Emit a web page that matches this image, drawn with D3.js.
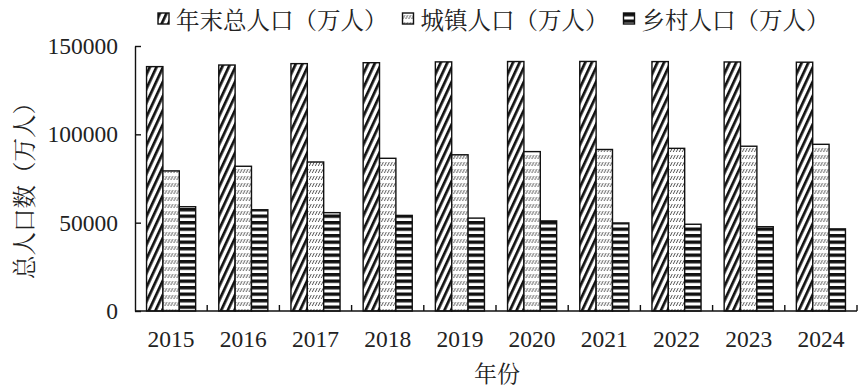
<!DOCTYPE html>
<html><head><meta charset="utf-8">
<script src="https://cdn.jsdelivr.net/npm/d3@7/dist/d3.min.js"></script>
<style>
body{margin:0;background:#fff;}
svg{display:block;}
text{fill:#222;}
</style></head>
<body>
<svg id="chart" width="861" height="390"></svg>
<script>
const years = ["2015","2016","2017","2018","2019","2020","2021","2022","2023","2024"];
const seriesNames = ["年末总人口（万人）","城镇人口（万人）","乡村人口（万人）"];
const totalPop = [138326,139232,140011,140541,141008,141212,141260,141175,140967,140828];
const urbanPop = [79302,81924,84343,86433,88426,90220,91425,92071,93267,94350];
const ruralPop = [59024,57308,55668,54108,52582,50992,49835,49104,47700,46478];
const yTicks = [0,50000,100000,150000];
const xTitle = "年份";
const yTitle = "总人口数（万人）";

const seriesValues = [totalPop, urbanPop, ruralPop];
const patternIds = ["pTotal","pUrban","pRural"];

const svg = d3.select("#chart");
const defs = svg.append("defs");

// diagonal black stripes
const p1 = defs.append("pattern").attr("id","pTotal").attr("patternUnits","userSpaceOnUse")
  .attr("width",6).attr("height",6).attr("patternTransform","rotate(25)");
p1.append("rect").attr("width",6).attr("height",6).attr("fill","#fff");
p1.append("rect").attr("x",0).attr("width",2.7).attr("height",6).attr("fill","#111");

// urban: rows of short fine diagonal strokes
const p2 = defs.append("pattern").attr("id","pUrban").attr("patternUnits","userSpaceOnUse")
  .attr("width",3).attr("height",7);
p2.append("rect").attr("width",3).attr("height",7).attr("fill","#fff");
p2.append("line").attr("x1",0.3).attr("y1",5).attr("x2",2.3).attr("y2",1)
  .attr("stroke","#555").attr("stroke-width",1);

// rural: horizontal black stripes
const p3 = defs.append("pattern").attr("id","pRural").attr("patternUnits","userSpaceOnUse")
  .attr("width",6).attr("height",6.5);
p3.append("rect").attr("width",6).attr("height",6.5).attr("fill","#fff");
p3.append("rect").attr("y",0).attr("width",6).attr("height",3.4).attr("fill","#111");

const plotLeft = 135, plotRight = 857, plotTop = 46, plotBottom = 311;

const x0 = d3.scaleBand().domain(years).range([plotLeft,plotRight]).paddingInner(0.32).paddingOuter(0.16);
const x1 = d3.scaleBand().domain(d3.range(seriesNames.length)).range([0,x0.bandwidth()]);
const y = d3.scaleLinear().domain([0,150000]).range([plotBottom,plotTop]);

// bars
const groups = svg.append("g").selectAll("g").data(years).join("g")
  .attr("transform",d=>`translate(${x0(d)},0)`);
groups.selectAll("rect").data((d,i)=>seriesValues.map((s,k)=>({k,v:s[i]}))).join("rect")
  .attr("x",d=>x1(d.k)).attr("width",x1.bandwidth())
  .attr("y",d=>y(d.v)).attr("height",d=>plotBottom-y(d.v))
  .attr("fill",d=>`url(#${patternIds[d.k]})`)
  .attr("stroke","#111").attr("stroke-width",1.4);

// y axis
const yAxis = d3.axisLeft(y).tickValues(yTicks).tickSizeInner(-6).tickSizeOuter(0).tickPadding(17).tickFormat(d3.format("d"));
const gy = svg.append("g").attr("transform",`translate(${plotLeft},0)`).call(yAxis);
gy.select(".domain").attr("stroke","#111").attr("stroke-width",1.4);
gy.selectAll(".tick line").attr("stroke","#111").attr("stroke-width",1.4);
gy.selectAll("text").attr("font-family","'Liberation Serif','Times New Roman',serif").attr("font-size",23.5).attr("fill","#222");

// x axis (category boundaries as inward ticks)
const boundaries = years.map((d,i)=>plotLeft + i*x0.step()).concat([plotRight]);
const xAxisG = svg.append("g");
xAxisG.append("line").attr("x1",plotLeft).attr("x2",plotRight).attr("y1",plotBottom).attr("y2",plotBottom)
  .attr("stroke","#111").attr("stroke-width",1.4);
xAxisG.selectAll("line.tk").data(boundaries.slice(1)).join("line").attr("class","tk")
  .attr("x1",d=>d).attr("x2",d=>d).attr("y1",plotBottom).attr("y2",plotBottom-6)
  .attr("stroke","#111").attr("stroke-width",1.4);
xAxisG.selectAll("text").data(years).join("text")
  .attr("x",d=>x0(d)+x0.bandwidth()/2).attr("y",347)
  .attr("text-anchor","middle")
  .attr("font-family","'Liberation Serif','Times New Roman',serif").attr("font-size",23.5)
  .text(d=>d);

// titles
svg.append("text").attr("x",497).attr("y",372).attr("text-anchor","middle")
  .attr("dominant-baseline","central")
  .attr("font-family","'Noto Serif CJK SC','Noto Sans CJK SC',sans-serif").attr("font-size",23).attr("fill","#333")
  .text(xTitle);
svg.append("text").attr("transform","translate(23,185) rotate(-90)").attr("text-anchor","middle")
  .attr("dominant-baseline","central")
  .attr("font-family","'Noto Serif CJK SC','Noto Sans CJK SC',sans-serif").attr("font-size",23.5).attr("fill","#333")
  .text(yTitle);

// legend (laid out sequentially)
const lg = svg.append("g");
let cx = 158;
seriesNames.forEach((name,i)=>{
  const item = lg.append("g").attr("transform",`translate(${cx},0)`);
  item.append("rect").attr("x",0).attr("y",13).attr("width",11).attr("height",11)
    .attr("fill",`url(#${patternIds[i]})`).attr("stroke","#111").attr("stroke-width",1.4);
  const t = item.append("text").attr("x",18).attr("y",19).attr("dominant-baseline","central")
    .attr("font-family","'Noto Serif CJK SC','Noto Sans CJK SC',sans-serif").attr("font-size",23.5).attr("fill","#333")
    .text(name);
  cx += 18 + t.node().getComputedTextLength() + 15;
});
</script>
</body></html>
